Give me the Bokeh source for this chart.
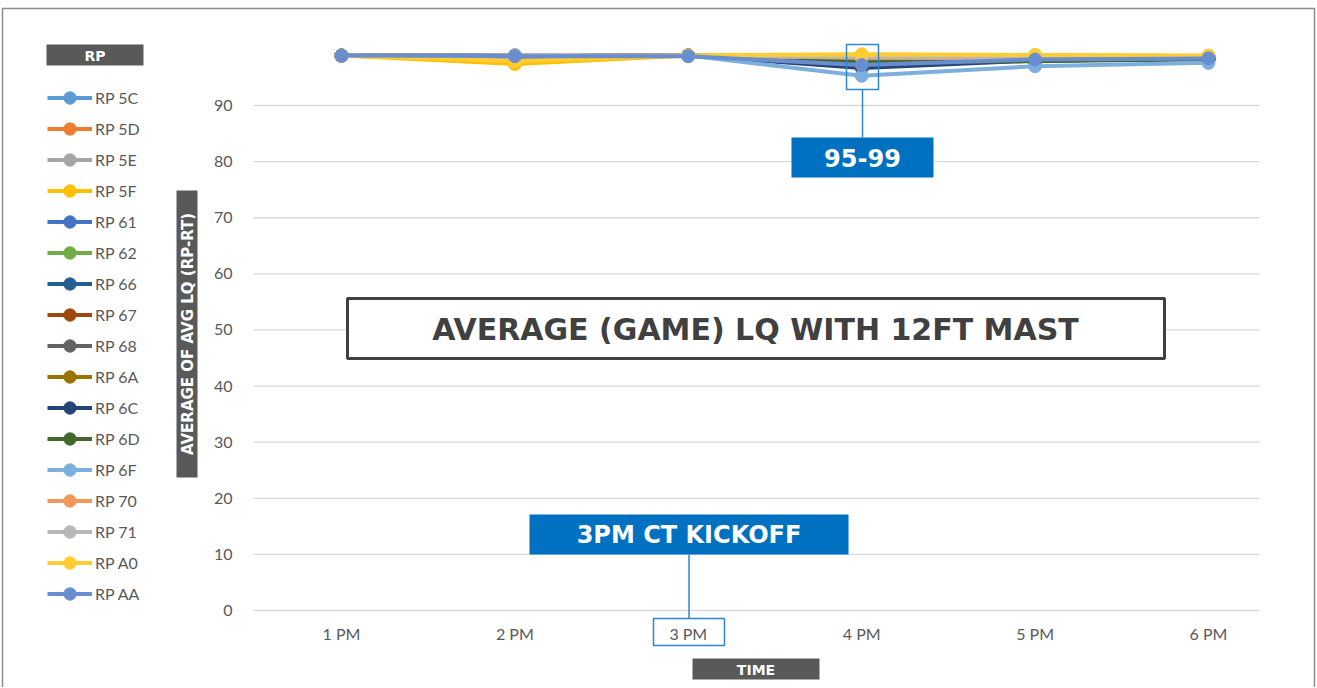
from bokeh.plotting import figure
from bokeh.models import Range1d, FixedTicker, Legend, LegendItem, Label, BoxAnnotation, Arrow
from bokeh.embed import file_html
from bokeh.resources import INLINE

# ---------------- data ----------------
times = ["1 PM", "2 PM", "3 PM", "4 PM", "5 PM", "6 PM"]
x_pos = [1, 2, 3, 4, 5, 6]
y_ticks = [0, 10, 20, 30, 40, 50, 60, 70, 80, 90]

series_names = ["RP 5C", "RP 5D", "RP 5E", "RP 5F", "RP 61", "RP 62", "RP 66", "RP 67",
                "RP 68", "RP 6A", "RP 6C", "RP 6D", "RP 6F", "RP 70", "RP 71", "RP A0", "RP AA"]

rp_5c = [98.9, 98.8, 98.9, 97.8, 98.3, 98.5]
rp_5d = [98.9, 98.7, 98.9, 98.6, 98.5, 98.6]
rp_5e = [98.9, 99.0, 98.9, 98.5, 98.6, 98.7]
rp_5f = [98.9, 97.4, 98.9, 99.1, 99.0, 98.8]
rp_61 = [98.9, 98.8, 98.9, 97.5, 98.2, 98.4]
rp_62 = [98.9, 98.8, 98.9, 97.8, 98.0, 98.3]
rp_66 = [98.9, 98.8, 98.9, 97.0, 98.1, 98.4]
rp_67 = [98.9, 98.8, 98.9, 98.3, 98.1, 98.3]
rp_68 = [98.9, 98.8, 98.9, 97.9, 98.2, 98.5]
rp_6a = [98.9, 98.8, 98.9, 98.4, 98.3, 98.5]
rp_6c = [98.9, 98.8, 98.9, 96.7, 98.0, 98.3]
rp_6d = [98.9, 98.8, 98.9, 97.6, 97.9, 98.3]
rp_6f = [98.9, 98.7, 98.9, 95.3, 97.0, 97.6]
rp_70 = [98.9, 98.8, 98.9, 98.5, 98.4, 98.6]
rp_71 = [98.9, 98.9, 98.9, 98.6, 98.6, 98.7]
rp_a0 = [98.9, 97.9, 98.9, 99.1, 99.0, 98.9]
rp_aa = [98.9, 98.8, 98.8, 97.2, 98.2, 98.4]

series_values = [rp_5c, rp_5d, rp_5e, rp_5f, rp_61, rp_62, rp_66, rp_67, rp_68,
                 rp_6a, rp_6c, rp_6d, rp_6f, rp_70, rp_71, rp_a0, rp_aa]

colors = ["#5B9BD5", "#ED7D31", "#A5A5A5", "#FFC000", "#4472C4", "#70AD47", "#255E91", "#9E480E",
          "#636363", "#997300", "#264478", "#43682B", "#7CAFDD", "#F1975A", "#B7B7B7", "#FFCD33", "#698ED0"]

title_text = "AVERAGE (GAME) LQ WITH 12FT MAST"
y_label_text = "AVERAGE OF AVG LQ (RP-RT)"
x_label_text = "TIME"
legend_title = "RP"
callout_range = "95-99"
callout_kickoff = "3PM CT KICKOFF"

# ---------------- layout (canvas pixels) ----------------
W, H = 1316, 687
PX_X1, PX_PER_X = 341.0, 173.4      # pixel of x=1, pixels per category step
PX_Y0, PX_PER_Y = 610.0, 5.611      # pixel of y=0, pixels per unit
AREA_L, AREA_R = 253, 1259          # plot-area horizontal extent

def px_x(px):
    return 1 + (px - PX_X1) / PX_PER_X

def px_y(py):
    return (PX_Y0 - py) / PX_PER_Y

p = figure(width=W, height=H, output_backend="svg", toolbar_location=None,
           x_range=Range1d(px_x(0), px_x(W)), y_range=Range1d(px_y(H), px_y(0)),
           min_border=0)
p.outline_line_color = None
p.background_fill_color = "white"
p.border_fill_color = "white"
p.grid.grid_line_color = None

grid_col = "#D9D9D9"
# horizontal gridlines limited to the plot area
p.segment(x0=px_x(AREA_L), x1=px_x(AREA_R), y0=y_ticks, y1=y_ticks,
          line_color=grid_col, line_width=1.3)

p.yaxis.ticker = FixedTicker(ticks=y_ticks)
p.xaxis.ticker = FixedTicker(ticks=x_pos)
p.xaxis.major_label_overrides = {x: t for x, t in zip(x_pos, times)}
p.xaxis.fixed_location = 0
p.yaxis.fixed_location = px_x(AREA_L)

for ax in (p.xaxis, p.yaxis):
    ax.major_tick_line_color = None
    ax.minor_tick_line_color = None
    ax.major_tick_out = 0
    ax.major_tick_in = 0
    ax.minor_tick_out = 0
    ax.axis_line_color = None
    ax.major_label_text_color = "#595959"
    ax.major_label_text_font = "Lato"
    ax.major_label_text_font_size = "16px"
p.yaxis.major_label_standoff = 21
p.xaxis.major_label_standoff = 13

# ---------------- series ----------------
items = []
for name, vals, col in zip(series_names, series_values, colors):
    r1 = p.line(x_pos, vals, line_color=col, line_width=4)
    r2 = p.scatter(x_pos, vals, marker="circle", size=13, fill_color=col, line_color=col)
    items.append(LegendItem(label=name, renderers=[r1, r2]))

legend = Legend(items=items, location=(47, H - 608.5), orientation="vertical",
                padding=0, margin=0, spacing=0, glyph_width=45, glyph_height=31,
                label_height=31, label_standoff=3, label_text_font="Lato",
                label_text_font_size="16px", label_text_color="#595959",
                border_line_color=None, background_fill_alpha=0)
p.add_layout(legend, "center")

# ---------------- annotations ----------------
BLUE = "#0070C0"
LINEBLUE = "#2E86D0"
DARK = "#595959"
BOLD = "DejaVu Sans"

def box(l, t, r, b, fill=None, line=None, lw=1.5):
    p.add_layout(BoxAnnotation(left=px_x(l), right=px_x(r), top=px_y(t), bottom=px_y(b),
                               fill_color=fill if fill else "white", fill_alpha=1 if fill else 0,
                               line_color=line if line else "white", line_width=lw,
                               line_alpha=1 if line else 0))

def label(cx, cy, text, size, color="white", angle=0):
    p.add_layout(Label(x=px_x(cx), y=px_y(cy), text=text, text_align="center",
                       text_baseline="middle", text_font=BOLD, text_font_style="bold",
                       text_font_size=size, text_color=color, angle=angle))

def vline(px, t, b):
    p.add_layout(Arrow(end=None, x_start=px_x(px), x_end=px_x(px), y_start=px_y(t), y_end=px_y(b),
                       line_color=LINEBLUE, line_width=1.5))

# outer border
box(2, 8, 1314, 720, line="#8C8C8C", lw=1.5)

# legend title
box(46, 44, 143, 65, fill=DARK)
label(94.5, 55, legend_title, "14px")

# y axis label
box(176, 190, 197, 477, fill=DARK)
label(187, 333.5, y_label_text, "15px", angle=1.5707963)

# x axis label
box(692, 658, 819, 679, fill=DARK)
label(755.5, 669, x_label_text, "14px")

# main title box
box(347, 298, 1164, 358, fill="white", line="#404040", lw=3)
label(755, 329, title_text, "30px", color="#404040")

# 95-99 callout
box(846, 44, 878, 89, line=LINEBLUE, lw=1.5)
vline(862, 89, 137)
box(791, 137, 933, 177, fill=BLUE)
label(862, 157, callout_range, "24px")

# kickoff callout
box(529, 514, 848, 554, fill=BLUE)
label(688.5, 534, callout_kickoff, "24px")
vline(688.5, 554, 618)
box(653, 618, 724, 645, line=LINEBLUE, lw=1.5)

open("out.html", "w").write(file_html(p, INLINE))
